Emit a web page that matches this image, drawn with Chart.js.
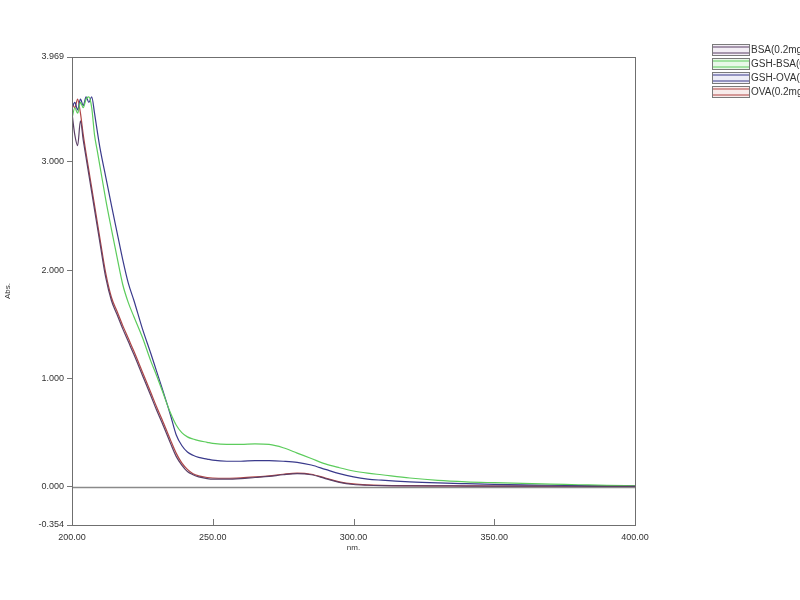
<!DOCTYPE html>
<html><head><meta charset="utf-8">
<script src="https://cdn.jsdelivr.net/npm/chart.js@4"></script>
<style>html,body{margin:0;padding:0;background:#fff;}#wrap{width:800px;height:600px;}</style>
</head><body><div id="wrap"><canvas id="c" width="800" height="600"></canvas></div>
<script>
const wavelengths = [200,201,202,203,204,205,206,207,208,209,210,212,214,216,218,220,222,225,228,230,232,235,237,239,241,243,245,248,250,255,260,265,270,275,280,285,290,295,300,305,310,320,330,340,350,360,370,380,390,400];
const seriesLabels = ['BSA(0.2mg/mL)','GSH-BSA(0.2mg/mL)','GSH-OVA(0.2mg/mL)','OVA(0.2mg/mL)'];
const bsa = [3.45,3.25,3.15,3.38,3.2,3.04,2.88,2.72,2.56,2.4,2.24,1.93,1.72,1.59,1.46,1.34,1.22,1.03,0.84,0.71,0.59,0.40,0.28,0.20,0.14,0.11,0.09,0.075,0.07,0.07,0.075,0.085,0.095,0.11,0.12,0.11,0.075,0.04,0.02,0.013,0.01,0.008,0.007,0.006,0.005,0.005,0.004,0.004,0.003,0.003];
const gshBsa = [3.4,3.5,3.45,3.55,3.5,3.58,3.6,3.5,3.25,3.1,2.95,2.65,2.38,2.12,1.87,1.7,1.57,1.38,1.16,1.03,0.89,0.68,0.57,0.5,0.46,0.44,0.425,0.41,0.40,0.39,0.39,0.395,0.39,0.36,0.31,0.26,0.21,0.175,0.145,0.125,0.11,0.08,0.058,0.045,0.037,0.03,0.024,0.018,0.012,0.008];
const gshOva = [3.5,3.55,3.48,3.58,3.52,3.6,3.55,3.6,3.45,3.28,3.12,2.86,2.6,2.35,2.1,1.88,1.72,1.46,1.23,1.07,0.91,0.66,0.48,0.38,0.32,0.29,0.27,0.255,0.245,0.235,0.235,0.24,0.24,0.235,0.225,0.2,0.16,0.12,0.09,0.07,0.06,0.045,0.035,0.028,0.022,0.017,0.013,0.01,0.008,0.006];
const ova = [3.55,3.5,3.58,3.45,3.25,3.08,2.92,2.76,2.6,2.44,2.28,1.97,1.75,1.62,1.49,1.37,1.25,1.06,0.87,0.74,0.62,0.43,0.31,0.22,0.16,0.12,0.10,0.085,0.08,0.078,0.082,0.09,0.10,0.115,0.125,0.115,0.08,0.045,0.025,0.016,0.012,0.009,0.008,0.007,0.006,0.006,0.005,0.005,0.004,0.004];
const yTicks = [-0.354,0,1,2,3,3.969];
const xTicks = [200,250,300,350,400];
const seriesColors = ['#5b3f66','#5ccc5c','#3a3a8c','#b04545'];
const seriesFills = ['#f3eef5','#e8f8e8','#ededf7','#f8eceb'];

const values = [bsa,gshBsa,gshOva,ova];
const datasets = values.map((arr,i)=>({
  label: seriesLabels[i],
  data: wavelengths.map((w,j)=>({x:w,y:arr[j]})),
  borderColor: seriesColors[i],
  backgroundColor: seriesFills[i],
  borderWidth: 1.2,
  pointRadius: 0,
  fill: false,
  cubicInterpolationMode: 'monotone'
}));

const frame = {
  id:'frame',
  beforeDatasetsDraw(chart){
    const {ctx, chartArea:a, scales:{x,y}} = chart;
    ctx.save();
    ctx.strokeStyle = '#8a8a8a'; ctx.lineWidth = 1.5;
    const y0 = Math.round(y.getPixelForValue(0))+0.5;
    ctx.beginPath(); ctx.moveTo(a.left,y0); ctx.lineTo(a.right,y0); ctx.stroke();
    ctx.lineWidth = 1; ctx.strokeStyle = '#777';
    xTicks.slice(1,-1).forEach(v=>{
      const px = Math.round(x.getPixelForValue(v))+0.5;
      ctx.beginPath(); ctx.moveTo(px,a.bottom); ctx.lineTo(px,a.bottom-6); ctx.stroke();
    });
    ctx.restore();
  },
  afterDraw(chart){
    const {ctx, chartArea:a} = chart;
    ctx.save();
    ctx.strokeStyle = '#6f6f6f'; ctx.lineWidth = 1;
    ctx.strokeRect(Math.round(a.left)+0.5, Math.round(a.top)+0.5, Math.round(a.right-a.left), Math.round(a.bottom-a.top));
    // legend
    ctx.font = '10px "Liberation Sans", Arial, sans-serif';
    ctx.textBaseline = 'middle';
    const rows = [50,64,78,92];
    chart.data.datasets.forEach((ds,i)=>{
      const yy = rows[i];
      ctx.fillStyle = ds.backgroundColor;
      ctx.fillRect(712,yy-5,37,10);
      ctx.strokeStyle = '#7a7a7a';
      ctx.strokeRect(712.5,yy-5.5,37,11);
      ctx.strokeStyle = ds.borderColor; ctx.lineWidth = 1.1;
      ctx.beginPath(); ctx.moveTo(713,yy-3); ctx.lineTo(749,yy-3); ctx.stroke();
      ctx.beginPath(); ctx.moveTo(713,yy+3); ctx.lineTo(749,yy+3); ctx.stroke();
      ctx.lineWidth = 1;
      ctx.fillStyle = '#333';
      ctx.textAlign = 'left';
      ctx.fillText(ds.label, 751, yy);
    });
    ctx.restore();
  }
};

new Chart(document.getElementById('c'), {
  type:'line',
  data:{datasets},
  plugins:[frame],
  options:{
    responsive:false,
    animation:false,
    layout:{padding:{left:0,right:165,top:57,bottom:0}},
    plugins:{legend:{display:false},tooltip:{enabled:false}},
    scales:{
      x:{
        type:'linear', min:200, max:400,
        afterBuildTicks(s){ s.ticks = xTicks.map(v=>({value:v})); },
        afterFit(s){ s.height = 75; },
        grid:{display:false, drawTicks:false},
        border:{display:false},
        ticks:{padding:7, color:'#333', font:{family:'"Liberation Sans", Arial, sans-serif', size:9}, maxRotation:0, callback:v=>Number(v).toFixed(2)},
        title:{display:true, text:'nm.', color:'#333', font:{family:'"Liberation Sans", Arial, sans-serif', size:8}, padding:{top:0,bottom:47}}
      },
      y:{
        type:'linear', min:-0.354, max:3.969,
        afterBuildTicks(s){ s.ticks = yTicks.map(v=>({value:v})); },
        afterFit(s){ s.width = 72; },
        grid:{drawOnChartArea:false, drawTicks:true, tickLength:5, color:'#777'},
        border:{display:false},
        ticks:{padding:3, color:'#333', font:{family:'"Liberation Sans", Arial, sans-serif', size:9}, callback:v=>Number(v).toFixed(3)},
        title:{display:true, text:'Abs.', color:'#333', font:{family:'"Liberation Sans", Arial, sans-serif', size:8}, padding:{top:3,bottom:0}}
      }
    }
  }
});
</script></body></html>
